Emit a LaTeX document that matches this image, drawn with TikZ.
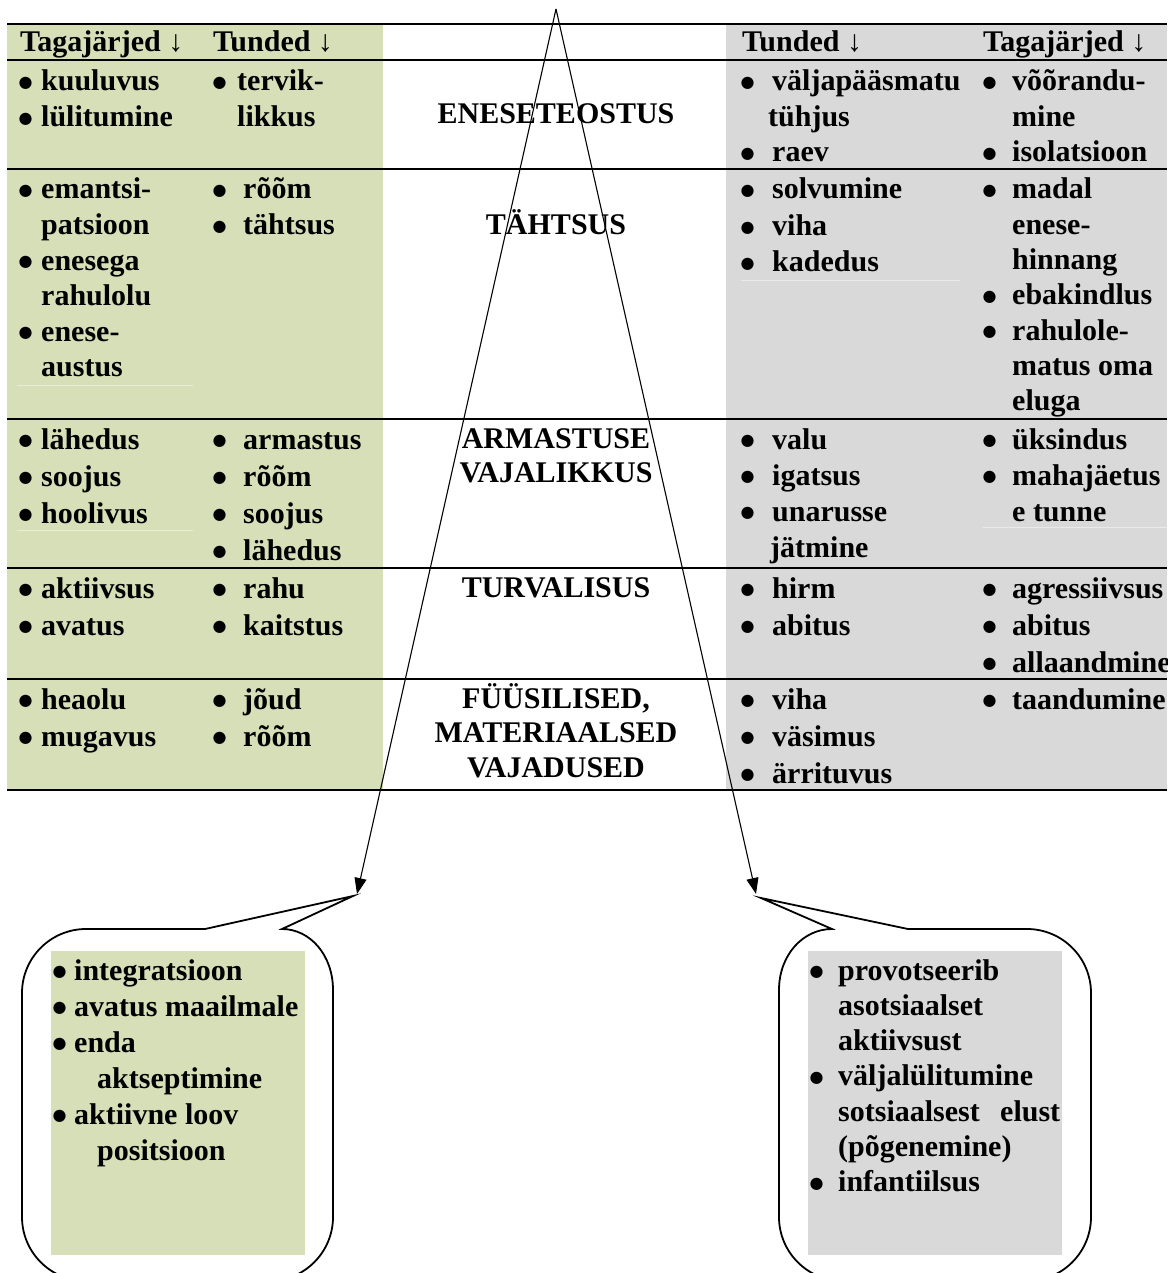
\documentclass[tikz,border=0pt]{standalone}
\usepackage{fontspec}
\setmainfont{Liberation Serif}
\newfontfamily\dotfont{DejaVu Sans}
\usetikzlibrary{arrows.meta}
\definecolor{olivebg}{RGB}{214,223,184}
\definecolor{greybg}{RGB}{217,217,217}
\newcommand\bigdot{\hspace*{-0.5pt}\raisebox{3.4pt}{\dotfont\fontsize{16}{16}\selectfont ●}}
\newcommand\bu[2]{\makebox[#1pt][l]{\bigdot}#2}
\newcommand\ct[2]{\hspace*{#1pt}#2}
\newcommand\lst[2]{\fontsize{30}{#1}\selectfont\begin{tabular}[t]{@{}l@{}}#2\end{tabular}}
\newcommand\clst[2]{\fontsize{30}{#1}\selectfont\begin{tabular}[t]{@{}c@{}}#2\end{tabular}}
\tikzset{
  cell/.style={anchor=base west, inner sep=0pt, font=\bfseries},
  lvl/.style={anchor=base, inner sep=0pt, font=\bfseries},
  hdr/.style={anchor=base west, inner sep=0pt, font=\bfseries\fontsize{30}{36}\selectfont},
  rule/.style={line width=2pt},
  faintg/.style={line width=1pt, olivebg!55!white},
  faintw/.style={line width=1pt, greybg!55!white},
  ray/.style={line width=1.1pt, -{Triangle[length=16pt,width=12pt]}},
  bubble/.style={line width=1.8pt, fill=white, line join=miter}
}
\begin{document}
\begin{tikzpicture}[x=1pt,y=-1pt]
\useasboundingbox (0,0) rectangle (1167,1273);
\fill[white] (0,0) rectangle (1167,1273);
% backgrounds
\fill[olivebg] (7,24) rectangle (383,790);
\fill[greybg] (726,24) rectangle (1167,790);
% faint inner cell lines
\draw[faintg] (17,385) -- (193,385);
\draw[faintg] (17,530) -- (193,530);
\draw[faintw] (741,280) -- (960,280);
\draw[faintw] (983,527) -- (1167,527);
% rules
\foreach \yy in {24,60,169,419,568,679,790}
  \draw[rule] (7,\yy) -- (1167,\yy);
% headers
\node[hdr] (h1) at (20,52) {Tagajärjed ↓};
\node[hdr] (h2) at (213,52) {Tunded ↓};
\node[hdr] (h3) at (742,52) {Tunded ↓};
\node[hdr] (h4) at (983,52) {Tagajärjed ↓};
% row 1
\node[cell] (c11) at (19,91) {\lst{35.5}{\bu{22}{kuuluvus}\\ \bu{22}{lülitumine}}};
\node[cell] (c12) at (213,91) {\lst{35.5}{\bu{24}{tervik-}\\ \ct{24}{likkus}}};
\node[cell] (c13) at (741,91) {\lst{35.5}{\bu{31}{väljapääsmatu}\\ \ct{27}{tühjus}\\ \bu{31}{raev}}};
\node[cell] (c14) at (983,91) {\lst{35.5}{\bu{29}{võõrandu-}\\ \ct{29}{mine}\\ \bu{29}{isolatsioon}}};
% row 2
\node[cell] (c21) at (19,199) {\lst{35.6}{\bu{22}{emantsi-}\\ \ct{22}{patsioon}\\ \bu{22}{enesega}\\ \ct{22}{rahulolu}\\ \bu{22}{enese-}\\ \ct{22}{austus}}};
\node[cell] (c22) at (213,199) {\lst{35.6}{\bu{30}{rõõm}\\ \bu{30}{tähtsus}}};
\node[cell] (c23) at (741,199) {\lst{36.5}{\bu{31}{solvumine}\\ \bu{31}{viha}\\ \bu{31}{kadedus}}};
\node[cell] (c24) at (983,199) {\lst{35.3}{\bu{29}{madal}\\ \ct{29}{enese-}\\ \ct{29}{hinnang}\\ \bu{29}{ebakindlus}\\ \bu{29}{rahulole-}\\ \ct{29}{matus oma}\\ \ct{29}{eluga}}};
% row 3
\node[cell] (c31) at (19,449) {\lst{37}{\bu{22}{lähedus}\\ \bu{22}{soojus}\\ \bu{22}{hoolivus}}};
\node[cell] (c32) at (213,449) {\lst{37}{\bu{30}{armastus}\\ \bu{30}{rõõm}\\ \bu{30}{soojus}\\ \bu{30}{lähedus}}};
\node[cell] (c33) at (741,449) {\lst{36}{\bu{31}{valu}\\ \bu{31}{igatsus}\\ \bu{31}{unarusse}\\ \ct{29}{jätmine}}};
\node[cell] (c34) at (983,449) {\lst{36}{\bu{29}{üksindus}\\ \bu{29}{mahajäetus}\\ \ct{29}{e tunne}}};
% row 4
\node[cell] (c41) at (19,598) {\lst{37}{\bu{22}{aktiivsus}\\ \bu{22}{avatus}}};
\node[cell] (c42) at (213,598) {\lst{37}{\bu{30}{rahu}\\ \bu{30}{kaitstus}}};
\node[cell] (c43) at (741,598) {\lst{37}{\bu{31}{hirm}\\ \bu{31}{abitus}}};
\node[cell] (c44) at (983,598) {\lst{37}{\bu{29}{agressiivsus}\\ \bu{29}{abitus}\\ \bu{29}{allaandmine}}};
% row 5
\node[cell] (c51) at (19,709) {\lst{37}{\bu{22}{heaolu}\\ \bu{22}{mugavus}}};
\node[cell] (c52) at (213,709) {\lst{37}{\bu{30}{jõud}\\ \bu{30}{rõõm}}};
\node[cell] (c53) at (741,709) {\lst{37}{\bu{31}{viha}\\ \bu{31}{väsimus}\\ \bu{31}{ärrituvus}}};
\node[cell] (c54) at (983,709) {\lst{37}{\bu{29}{taandumine}}};
% levels
\node[lvl] (m1) at (556,124) {\clst{34}{ENESETEOSTUS}};
\node[lvl] (m2) at (556,235) {\clst{34}{TÄHTSUS}};
\node[lvl] (m3) at (556,448) {\clst{34}{ARMASTUSE\\ VAJALIKKUS}};
\node[lvl] (m4) at (556,597) {\clst{34}{TURVALISUS}};
\node[lvl] (m5) at (556,708) {\clst{34.5}{FÜÜSILISED,\\ MATERIAALSED\\ VAJADUSED}};
% pyramid rays
\coordinate (apex) at (556,9);
\coordinate (ltip) at (357,894);
\coordinate (rtip) at (756,894);
\draw[ray] (apex) -- (ltip);
\draw[ray] (apex) -- (rtip);
% left bubble
\draw[bubble] (205,929) -- (353,896) -- (282,929)
  .. controls (310,929) and (333,955) .. (333,990)
  -- (333,1217) .. controls (333,1252.3) and (304.3,1281) .. (269,1281)
  -- (86,1281) .. controls (50.7,1281) and (22,1252.3) .. (22,1217)
  -- (22,993) .. controls (22,957.7) and (50.7,929) .. (86,929) -- cycle;
\fill[olivebg] (51,951) rectangle (305,1255);
\node[cell] (b1) at (53,980) {\lst{36}{\bu{21}{integratsioon}\\ \bu{21}{avatus maailmale}\\ \bu{21}{enda}\\ \ct{44}{aktseptimine}\\ \bu{21}{aktiivne loov}\\ \ct{44}{positsioon}}};
% right bubble
\draw[bubble] (908,929) -- (761,898) -- (832,929)
  .. controls (803,929) and (779,955) .. (779,990)
  -- (779,1217) .. controls (779,1252.3) and (807.7,1281) .. (843,1281)
  -- (1027,1281) .. controls (1062.3,1281) and (1091,1252.3) .. (1091,1217)
  -- (1091,993) .. controls (1091,957.7) and (1062.3,929) .. (1027,929) -- cycle;
\fill[greybg] (808,951) rectangle (1062,1255);
\node[cell] (b2) at (810,980) {\lst{35.3}{\bu{28}{provotseerib}\\ \ct{28}{asotsiaalset}\\ \ct{28}{aktiivsust}\\ \bu{28}{väljalülitumine}\\ \ct{28}{\hbox to 222pt{sotsiaalsest\hfill elust}}\\ \ct{28}{(põgenemine)}\\ \bu{28}{infantiilsus}}};
\end{tikzpicture}
\end{document}
